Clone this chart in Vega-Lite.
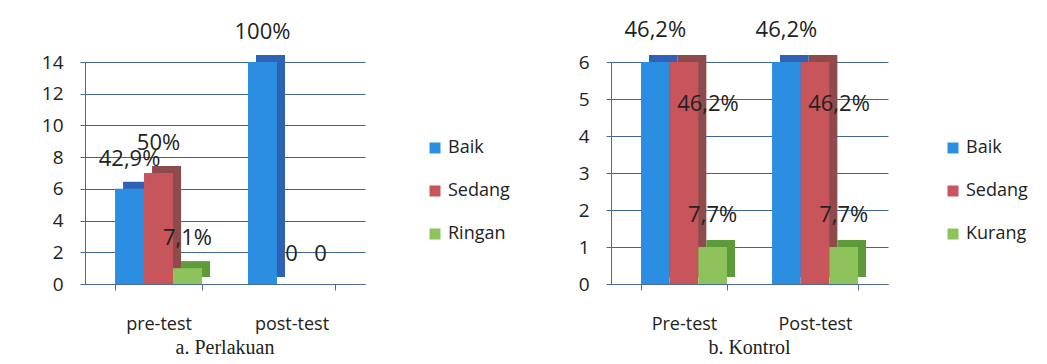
{
  "$schema": "https://vega.github.io/schema/vega-lite/v6.json",
  "background": "white",
  "padding": {"left": 41, "top": 19, "right": 5, "bottom": 5},
  "spacing": 68,
  "config": {
    "view": {"stroke": null},
    "font": "Open Sans",
    "axis": {
      "labelFont": "Open Sans",
      "labelColor": "#222222",
      "domainColor": "#4a6a90",
      "tickColor": "#4a6a90",
      "gridColor": "#3f6694",
      "gridWidth": 1
    },
    "axisY": {"labelFontSize": 19, "tickSize": 5, "labelPadding": 17, "grid": true},
    "axisX": {"labelFontSize": 18, "labelAngle": 0, "tickSize": 6, "labelPadding": 25, "grid": false, "tickBand": "extent"},
    "legend": {"labelFont": "Open Sans", "labelFontSize": 18, "labelColor": "#222222", "symbolType": "square", "symbolSize": 121, "symbolStrokeWidth": 0, "rowPadding": 25, "labelOffset": 4},
    "title": {"font": "Liberation Serif", "fontSize": 20, "fontWeight": "normal", "color": "#222222"}
  },
  "resolve": {"scale": {"color": "independent"}, "legend": {"color": "independent"}},
  "hconcat": [
    {
      "width": 280,
      "height": 222,
      "title": {"text": "a. Perlakuan", "orient": "bottom", "offset": 5},
      "data": {"values": [
        {"test": "pre-test", "kategori": "Baik", "jumlah": 6, "label": "42,9%"},
        {"test": "pre-test", "kategori": "Sedang", "jumlah": 7, "label": "50%"},
        {"test": "pre-test", "kategori": "Ringan", "jumlah": 1, "label": "7,1%"},
        {"test": "post-test", "kategori": "Baik", "jumlah": 14, "label": "100%"},
        {"test": "post-test", "kategori": "Sedang", "jumlah": 0, "label": "0"},
        {"test": "post-test", "kategori": "Ringan", "jumlah": 0, "label": "0"}
      ]},
      "encoding": {
        "x": {"field": "test", "type": "nominal", "sort": ["pre-test", "post-test"], "scale": {"paddingInner": 0.346, "paddingOuter": 0.226}, "axis": {"title": null}},
        "y": {"field": "jumlah", "type": "quantitative", "scale": {"domain": [0, 14], "nice": false}, "axis": {"title": null, "values": [0, 2, 4, 6, 8, 10, 12, 14]}}
      },
      "resolve": {"scale": {"xOffset": "independent", "color": "independent"}, "legend": {"color": "independent"}},
      "layer": [
        {
          "mark": {"type": "bar", "stroke": null, "yOffset": -7, "y2Offset": -7},
          "encoding": {
            "xOffset": {"field": "kategori", "type": "nominal", "sort": ["Baik", "Sedang", "Ringan"], "scale": {"type": "band", "paddingInner": 0, "paddingOuter": 0, "range": [8, 95]}},
            "color": {"field": "kategori", "type": "nominal",
              "scale": {"domain": ["Baik", "Sedang", "Ringan"], "range": ["#2f62b4", "#8f4a4c", "#5d9a3a"]},
              "legend": null}
          }
        },
        {
          "mark": {"type": "bar", "stroke": null},
          "encoding": {
            "xOffset": {"field": "kategori", "type": "nominal", "sort": ["Baik", "Sedang", "Ringan"], "scale": {"type": "band", "paddingInner": 0, "paddingOuter": 0}},
            "color": {"field": "kategori", "type": "nominal", "sort": ["Baik", "Sedang", "Ringan"],
              "scale": {"domain": ["Baik", "Sedang", "Ringan"], "range": ["#2b8ee0", "#c9555c", "#8dc35a"]},
              "legend": {"title": null, "orient": "none", "legendX": 341, "legendY": 77}}
          }
        },
        {
          "mark": {"type": "text", "fontSize": 22, "dy": -30, "baseline": "middle", "color": "#222222"},
          "encoding": {
            "xOffset": {"field": "kategori", "type": "nominal", "sort": ["Baik", "Sedang", "Ringan"], "scale": {"type": "band", "paddingInner": 0, "paddingOuter": 0}, "bandPosition": 0.5},
            "text": {"field": "label"}
          }
        }
      ]
    },
    {
      "width": 277,
      "height": 222,
      "title": {"text": "b. Kontrol", "orient": "bottom", "offset": 5},
      "data": {"values": [
        {"test": "Pre-test", "kategori": "Baik", "jumlah": 6, "label": "46,2%"},
        {"test": "Pre-test", "kategori": "Sedang", "jumlah": 6, "label": "46,2%"},
        {"test": "Pre-test", "kategori": "Kurang", "jumlah": 1, "label": "7,7%"},
        {"test": "Post-test", "kategori": "Baik", "jumlah": 6, "label": "46,2%"},
        {"test": "Post-test", "kategori": "Sedang", "jumlah": 6, "label": "46,2%"},
        {"test": "Post-test", "kategori": "Kurang", "jumlah": 1, "label": "7,7%"}
      ]},
      "encoding": {
        "x": {"field": "test", "type": "nominal", "sort": ["Pre-test", "Post-test"], "scale": {"paddingInner": 0.344, "paddingOuter": 0.229}, "axis": {"title": null}},
        "y": {"field": "jumlah", "type": "quantitative", "scale": {"domain": [0, 6], "nice": false}, "axis": {"title": null, "values": [0, 1, 2, 3, 4, 5, 6]}}
      },
      "resolve": {"scale": {"xOffset": "independent", "color": "independent"}, "legend": {"color": "independent"}},
      "layer": [
        {
          "mark": {"type": "bar", "stroke": null, "yOffset": -7, "y2Offset": -7},
          "encoding": {
            "xOffset": {"field": "kategori", "type": "nominal", "sort": ["Baik", "Sedang", "Kurang"], "scale": {"type": "band", "paddingInner": 0, "paddingOuter": 0, "range": [8, 94]}},
            "color": {"field": "kategori", "type": "nominal",
              "scale": {"domain": ["Baik", "Sedang", "Kurang"], "range": ["#2f62b4", "#8f4a4c", "#5d9a3a"]},
              "legend": null}
          }
        },
        {
          "mark": {"type": "bar", "stroke": null},
          "encoding": {
            "xOffset": {"field": "kategori", "type": "nominal", "sort": ["Baik", "Sedang", "Kurang"], "scale": {"type": "band", "paddingInner": 0, "paddingOuter": 0}},
            "color": {"field": "kategori", "type": "nominal", "sort": ["Baik", "Sedang", "Kurang"],
              "scale": {"domain": ["Baik", "Sedang", "Kurang"], "range": ["#2b8ee0", "#c9555c", "#8dc35a"]},
              "legend": {"title": null, "orient": "none", "legendX": 333, "legendY": 77}}
          }
        },
        {
          "transform": [{"filter": "datum.kategori !== 'Sedang'"}],
          "mark": {"type": "text", "fontSize": 22, "dy": -32, "baseline": "middle", "color": "#222222"},
          "encoding": {
            "xOffset": {"field": "kategori", "type": "nominal", "sort": ["Baik", "Sedang", "Kurang"], "scale": {"type": "band", "domain": ["Baik", "Sedang", "Kurang"], "paddingInner": 0, "paddingOuter": 0}, "bandPosition": 0.5},
            "text": {"field": "label"}
          }
        },
        {
          "transform": [{"filter": "datum.kategori === 'Sedang'"}],
          "mark": {"type": "text", "fontSize": 22, "dy": 42, "dx": 24, "baseline": "middle", "color": "#222222"},
          "encoding": {
            "xOffset": {"field": "kategori", "type": "nominal", "sort": ["Baik", "Sedang", "Kurang"], "scale": {"type": "band", "domain": ["Baik", "Sedang", "Kurang"], "paddingInner": 0, "paddingOuter": 0}, "bandPosition": 0.5},
            "text": {"field": "label"}
          }
        }
      ]
    }
  ]
}
